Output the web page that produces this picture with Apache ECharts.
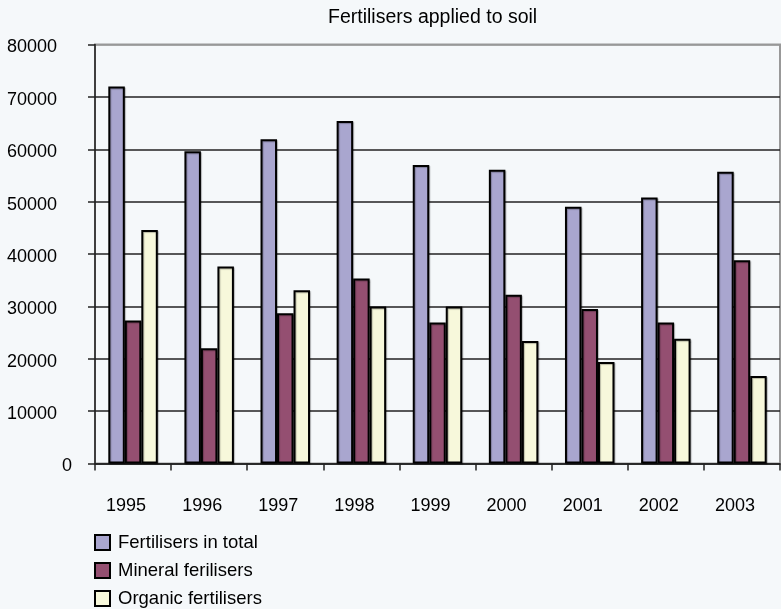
<!DOCTYPE html>
<html>
<head>
<meta charset="utf-8">
<script src="https://cdn.jsdelivr.net/npm/echarts@6/dist/echarts.min.js"></script>
<style>
  html, body { margin: 0; padding: 0; background: #F5F8FA; }
  #chart { width: 781px; height: 609px; }
</style>
</head>
<body>
<div id="chart"></div>
<script>
// Fertilisers applied to soil, by year
const years = ['1995', '1996', '1997', '1998', '1999', '2000', '2001', '2002', '2003'];
const totalFertilisers = [72000, 59600, 61900, 65400, 57000, 56100, 49000, 50800, 55700];
const mineralFertilisers = [27300, 22000, 28700, 35300, 26900, 32200, 29500, 26900, 38800];
const organicFertilisers = [44600, 37600, 33100, 30000, 30000, 23400, 19400, 23800, 16700];
const seriesNames = ['Fertilisers in total', 'Mineral ferilisers', 'Organic fertilisers'];

const FONT = '"Liberation Sans", Arial, sans-serif';

function barSeries(name, data, color) {
  return {
    name: name,
    type: 'bar',
    data: data,
    barWidth: 16.5,
    barGap: '0%',
    itemStyle: {
      color: color,
      borderColor: '#000',
      borderWidth: 2,
      shadowColor: 'rgba(0,0,0,0.25)',
      shadowOffsetX: 1,
      shadowOffsetY: 1,
      shadowBlur: 1
    }
  };
}

// one legend block per series, stacked as a single column under the axis
function legendRow(name, top) {
  return {
    orient: 'vertical',
    left: 94,
    top: top,
    padding: 0,
    itemWidth: 15,
    itemHeight: 15,
    icon: 'rect',
    itemStyle: { borderColor: '#000', borderWidth: 2 },
    textStyle: { fontFamily: FONT, fontSize: 18.5, color: '#000', padding: [0, 0, 0, 3] },
    data: [name]
  };
}

// split lines: dark gridlines, the top one blends with the gray frame
const splitColors = ['#222', '#222', '#222', '#222', '#222', '#222', '#222', '#222', '#999'];

const chart = echarts.init(document.getElementById('chart'), null, { renderer: 'canvas' });
chart.setOption({
  backgroundColor: '#F5F8FA',
  animation: false,
  title: {
    text: 'Fertilisers applied to soil',
    left: 323,
    top: 3,
    textStyle: { fontFamily: FONT, fontSize: 19.5, fontWeight: 'normal', color: '#000' }
  },
  legend: [
    legendRow(seriesNames[0], 533),
    legendRow(seriesNames[1], 561),
    legendRow(seriesNames[2], 589)
  ],
  grid: {
    left: 95,
    right: 1,
    top: 44.5,
    bottom: 145.5,
    show: true,
    borderColor: '#999',
    borderWidth: 2,
    backgroundColor: 'transparent'
  },
  xAxis: {
    type: 'category',
    data: years,
    axisLine: { lineStyle: { color: '#222', width: 1.5 } },
    axisTick: { show: true, length: 7, lineStyle: { color: '#222', width: 1.5 } },
    axisLabel: {
      fontFamily: FONT, fontSize: 18, color: '#000', margin: 34,
      padding: [0, 14, 0, 0]
    },
    splitLine: { show: false }
  },
  yAxis: {
    type: 'value',
    min: 0,
    max: 80000,
    interval: 10000,
    axisLine: { show: true, lineStyle: { color: '#222', width: 1.5 } },
    axisTick: { show: true, length: 7, lineStyle: { color: '#222', width: 1.5 } },
    axisLabel: {
      fontFamily: FONT, fontSize: 18, color: '#000', margin: 23,
      formatter: function (v) { return v === 0 ? '{z|0}' : '{w|' + v + '}'; },
      rich: {
        w: { fontFamily: FONT, fontSize: 18, color: '#000', padding: [6, 15, 0, 0] },
        z: { fontFamily: FONT, fontSize: 18, color: '#000', padding: [6, 0, 0, 0] }
      }
    },
    splitLine: { show: true, lineStyle: { color: splitColors, width: 1.5 } }
  },
  series: [
    barSeries(seriesNames[0], totalFertilisers, '#A9A6CF'),
    barSeries(seriesNames[1], mineralFertilisers, '#944F71'),
    barSeries(seriesNames[2], organicFertilisers, '#F7F8DB')
  ]
});
</script>
</body>
</html>
